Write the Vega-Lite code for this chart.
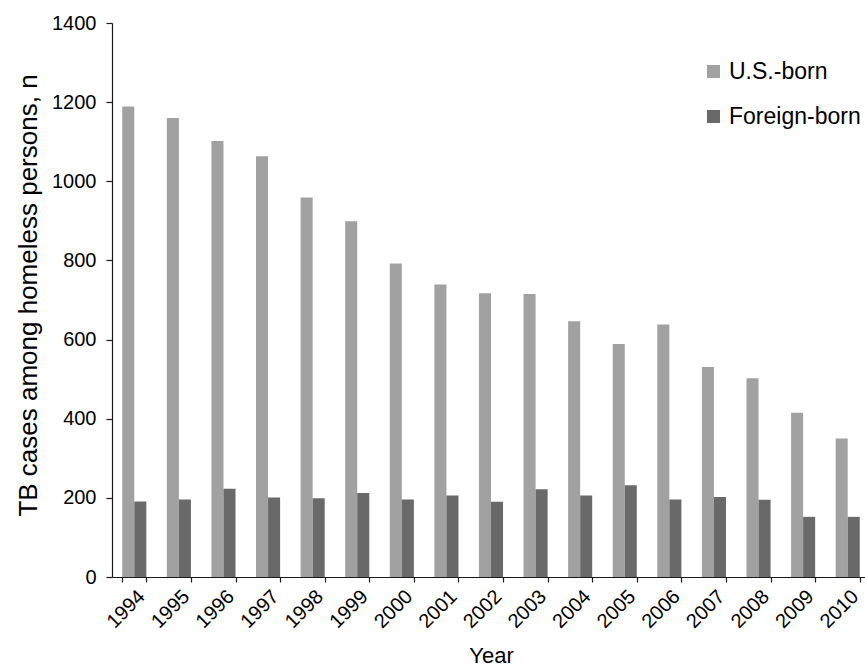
{
  "$schema": "https://vega.github.io/schema/vega-lite/v6.json",
  "autosize": {"type": "none"},
  "width": 753,
  "height": 554,
  "padding": {"left": 112, "top": 23, "right": 0, "bottom": 92},
  "background": "white",
  "config": {
    "view": {"stroke": null},
    "font": "Liberation Sans",
    "axis": {"labelFont": "Liberation Sans", "titleFont": "Liberation Sans", "labelColor": "#000000", "titleColor": "#000000", "domainColor": "#1a1a1a", "tickColor": "#1a1a1a", "titleFontWeight": "normal"}
  },
  "data": {
    "values": [
      {"year": "1994", "origin": "U.S.-born", "cases": 1189},
      {"year": "1995", "origin": "U.S.-born", "cases": 1160},
      {"year": "1996", "origin": "U.S.-born", "cases": 1102},
      {"year": "1997", "origin": "U.S.-born", "cases": 1063},
      {"year": "1998", "origin": "U.S.-born", "cases": 959},
      {"year": "1999", "origin": "U.S.-born", "cases": 899},
      {"year": "2000", "origin": "U.S.-born", "cases": 792},
      {"year": "2001", "origin": "U.S.-born", "cases": 739},
      {"year": "2002", "origin": "U.S.-born", "cases": 717},
      {"year": "2003", "origin": "U.S.-born", "cases": 715},
      {"year": "2004", "origin": "U.S.-born", "cases": 646},
      {"year": "2005", "origin": "U.S.-born", "cases": 589},
      {"year": "2006", "origin": "U.S.-born", "cases": 638},
      {"year": "2007", "origin": "U.S.-born", "cases": 531},
      {"year": "2008", "origin": "U.S.-born", "cases": 502},
      {"year": "2009", "origin": "U.S.-born", "cases": 415},
      {"year": "2010", "origin": "U.S.-born", "cases": 350},
      {"year": "1994", "origin": "Foreign-born", "cases": 191},
      {"year": "1995", "origin": "Foreign-born", "cases": 196},
      {"year": "1996", "origin": "Foreign-born", "cases": 223},
      {"year": "1997", "origin": "Foreign-born", "cases": 201},
      {"year": "1998", "origin": "Foreign-born", "cases": 199},
      {"year": "1999", "origin": "Foreign-born", "cases": 212},
      {"year": "2000", "origin": "Foreign-born", "cases": 196},
      {"year": "2001", "origin": "Foreign-born", "cases": 206},
      {"year": "2002", "origin": "Foreign-born", "cases": 190},
      {"year": "2003", "origin": "Foreign-born", "cases": 222},
      {"year": "2004", "origin": "Foreign-born", "cases": 206},
      {"year": "2005", "origin": "Foreign-born", "cases": 232},
      {"year": "2006", "origin": "Foreign-born", "cases": 196},
      {"year": "2007", "origin": "Foreign-born", "cases": 202},
      {"year": "2008", "origin": "Foreign-born", "cases": 195},
      {"year": "2009", "origin": "Foreign-born", "cases": 152},
      {"year": "2010", "origin": "Foreign-born", "cases": 152}
    ]
  },
  "mark": {"type": "bar"},
  "encoding": {
    "x": {
      "field": "year",
      "type": "nominal",
      "scale": {"range": [0, 758], "paddingInner": 0.46, "paddingOuter": 0.23},
      "axis": {
        "title": "Year",
        "titleFontSize": 22,
        "titlePadding": 14,
        "labelAngle": -45,
        "labelFontSize": 20,
        "labelPadding": 4,
        "tickSize": 5,
        "tickBand": "extent",
        "domainWidth": 1.2,
        "tickWidth": 1.2
      }
    },
    "xOffset": {"field": "origin", "type": "nominal", "sort": ["U.S.-born", "Foreign-born"]},
    "y": {
      "field": "cases",
      "type": "quantitative",
      "scale": {"domain": [0, 1400], "nice": false},
      "axis": {
        "title": "TB cases among homeless persons, n",
        "titleFontSize": 26,
        "titlePadding": 10,
        "titleY": 272,
        "format": "d",
        "values": [0, 200, 400, 600, 800, 1000, 1200, 1400],
        "grid": false,
        "labelFontSize": 20,
        "labelPadding": 10,
        "tickSize": 6,
        "domainWidth": 1.2,
        "tickWidth": 1.2
      }
    },
    "color": {
      "field": "origin",
      "type": "nominal",
      "scale": {"domain": ["U.S.-born", "Foreign-born"], "range": ["#a1a1a1", "#696969"]},
      "legend": {
        "orient": "none",
        "legendX": 590,
        "legendY": 37,
        "title": null,
        "symbolType": "square",
        "symbolSize": 169,
        "symbolStrokeWidth": 0,
        "labelFontSize": 23,
        "labelColor": "#000000",
        "labelOffset": 4,
        "rowPadding": 21,
        "padding": 0
      }
    }
  }
}
